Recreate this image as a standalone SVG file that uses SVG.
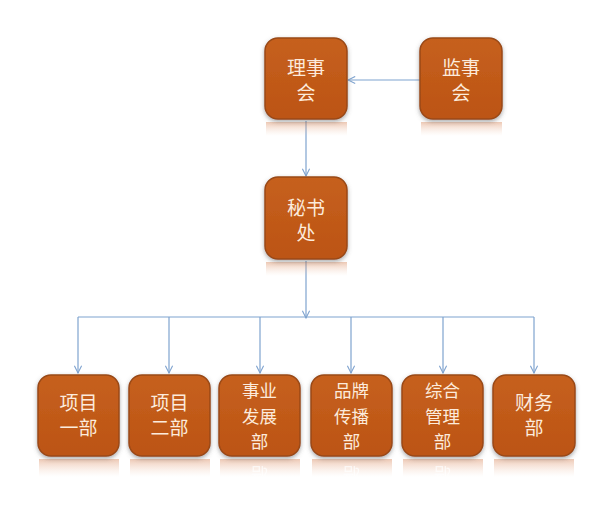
<svg xmlns="http://www.w3.org/2000/svg" width="607" height="513" viewBox="0 0 607 513">
<style>
.box{fill:url(#g);stroke:#9A4A17;stroke-width:1.5}
.t{font-family:"Noto Sans CJK SC","Noto Sans",sans-serif;font-size:19px;fill:#FCEBDC;text-anchor:middle}
.t3{font-family:"Noto Sans CJK SC","Noto Sans",sans-serif;font-size:17.5px;fill:#FCEBDC;text-anchor:middle}
.rt{font-family:"Noto Sans CJK SC","Noto Sans",sans-serif;font-size:17.5px;fill:#ffffff;text-anchor:middle;opacity:0.7}
.c{fill:none;stroke:#7FA3CF;stroke-width:1.2}
.refl{fill:url(#rg)}
</style>
<defs>
<linearGradient id="g" x1="0" y1="0" x2="0" y2="1">
<stop offset="0" stop-color="#C6601E"/>
<stop offset="1" stop-color="#BC5414"/>
</linearGradient>
<linearGradient id="rg" x1="0" y1="0" x2="0" y2="1">
<stop offset="0" stop-color="#D9875A" stop-opacity="0.45"/>
<stop offset="1" stop-color="#F0C8B0" stop-opacity="0"/>
</linearGradient>
<filter id="sh" x="-20%" y="-20%" width="140%" height="140%">
<feDropShadow dx="0" dy="2" stdDeviation="2" flood-color="#555" flood-opacity="0.5"/>
</filter>
<marker id="ar" viewBox="0 0 10 10" refX="9" refY="5" markerWidth="9" markerHeight="9" markerUnits="userSpaceOnUse" orient="auto">
<path d="M1,1 L9,5 L1,9" fill="none" stroke="#7FA3CF" stroke-width="1.2"/>
</marker>
<clipPath id="c2"><rect x="0" y="-476" width="607" height="10"/></clipPath>
</defs>
<rect width="607" height="513" fill="#ffffff"/>
<g id="connectors">
<line class="c" x1="420" y1="80" x2="348" y2="80" marker-end="url(#ar)"/>
<line class="c" x1="306" y1="121" x2="306" y2="176" marker-end="url(#ar)"/>
<line class="c" x1="306" y1="261" x2="306" y2="318" marker-end="url(#ar)"/>
<line class="c" x1="78" y1="317" x2="534" y2="317"/>
<line class="c" x1="78" y1="317" x2="78" y2="373" marker-end="url(#ar)"/>
<line class="c" x1="169" y1="317" x2="169" y2="373" marker-end="url(#ar)"/>
<line class="c" x1="260" y1="317" x2="260" y2="373" marker-end="url(#ar)"/>
<line class="c" x1="351" y1="317" x2="351" y2="373" marker-end="url(#ar)"/>
<line class="c" x1="443" y1="317" x2="443" y2="373" marker-end="url(#ar)"/>
<line class="c" x1="534" y1="317" x2="534" y2="373" marker-end="url(#ar)"/>
</g>
<g id="lishihui">
<rect class="refl" x="266" y="122" width="81" height="14"/>
<rect class="box" x="265" y="38" width="82" height="81" rx="13" filter="url(#sh)"/>
<text class="t" x="306" y="75">理事<tspan x="306" dy="25">会</tspan></text>
</g>
<g id="jianshihui">
<rect class="refl" x="421" y="122" width="81" height="14"/>
<rect class="box" x="420" y="38" width="82" height="81" rx="13" filter="url(#sh)"/>
<text class="t" x="461" y="75">监事<tspan x="461" dy="25">会</tspan></text>
</g>
<g id="mishuchu">
<rect class="refl" x="266" y="262" width="81" height="14"/>
<rect class="box" x="265" y="177" width="82" height="82" rx="13" filter="url(#sh)"/>
<text class="t" x="306" y="215">秘书<tspan x="306" dy="25">处</tspan></text>
</g>
<g id="xiangmu1">
<rect class="refl" x="39" y="459" width="80" height="18"/>
<rect class="box" x="38" y="375" width="81" height="81" rx="13" filter="url(#sh)"/>
<text class="t" x="78.5" y="410">项目<tspan x="78.5" dy="25">一部</tspan></text>
</g>
<g id="xiangmu2">
<rect class="refl" x="130" y="459" width="80" height="18"/>
<rect class="box" x="129" y="375" width="81" height="81" rx="13" filter="url(#sh)"/>
<text class="t" x="169.5" y="410">项目<tspan x="169.5" dy="25">二部</tspan></text>
</g>
<g id="shiyefazhan">
<rect class="refl" x="220" y="459" width="80" height="18"/>
<rect class="box" x="219" y="375" width="81" height="81" rx="13" filter="url(#sh)"/>
<text class="t3" x="259.5" y="397">事业<tspan x="259.5" dy="25.5">发展</tspan><tspan x="259.5" dy="25.5">部</tspan></text>
<text class="rt" x="259.5" y="-467" transform="scale(1,-1)" clip-path="url(#c2)">部</text>
</g>
<g id="pinpai">
<rect class="refl" x="312" y="459" width="80" height="18"/>
<rect class="box" x="311" y="375" width="81" height="81" rx="13" filter="url(#sh)"/>
<text class="t3" x="351.5" y="397">品牌<tspan x="351.5" dy="25.5">传播</tspan><tspan x="351.5" dy="25.5">部</tspan></text>
<text class="rt" x="351.5" y="-467" transform="scale(1,-1)" clip-path="url(#c2)">部</text>
</g>
<g id="zonghe">
<rect class="refl" x="403" y="459" width="80" height="18"/>
<rect class="box" x="402" y="375" width="81" height="81" rx="13" filter="url(#sh)"/>
<text class="t3" x="442.5" y="397">综合<tspan x="442.5" dy="25.5">管理</tspan><tspan x="442.5" dy="25.5">部</tspan></text>
<text class="rt" x="442.5" y="-467" transform="scale(1,-1)" clip-path="url(#c2)">部</text>
</g>
<g id="caiwu">
<rect class="refl" x="494" y="459" width="80" height="18"/>
<rect class="box" x="493" y="375" width="82" height="81" rx="13" filter="url(#sh)"/>
<text class="t" x="534" y="410">财务<tspan x="534" dy="25">部</tspan></text>
</g>
</svg>
